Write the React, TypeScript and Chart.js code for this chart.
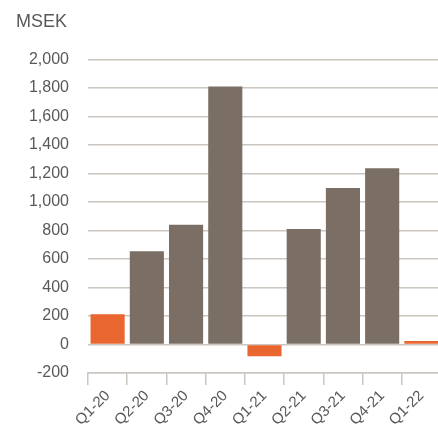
import React, { useEffect, useRef } from "react";
import { Chart, registerables } from "chart.js";

Chart.register(...registerables);

const categories = ["Q1-20", "Q2-20", "Q3-20", "Q4-20", "Q1-21", "Q2-21", "Q3-21", "Q4-21", "Q1-22"];
const values = [212, 655, 840, 1812, -82, 810, 1098, 1238, 25];
const yMin = -200;
const yMax = 2000;
const yStep = 200;
const unitLabel = "MSEK";

const ORANGE = "#ea6630";
const GRAY = "#7b6f65";
const TEXT = "#595959";
const GRID = "#cbc6bf";

export default function App() {
  const ref = useRef<HTMLCanvasElement | null>(null);
  useEffect(() => {
    if (!ref.current) return;
    const colors = categories.map((c) => (c.startsWith("Q1") ? ORANGE : GRAY));
    const chart = new Chart(ref.current, {
      type: "bar",
      data: {
        labels: categories,
        datasets: [
          {
            data: values,
            backgroundColor: colors,
            barPercentage: 0.87,
            categoryPercentage: 1,
          },
        ],
      },
      options: {
        animation: false,
        responsive: false,
        layout: { padding: { left: 16, right: 0, top: 0, bottom: 0 } },
        plugins: {
          legend: { display: false },
          tooltip: { enabled: false },
          title: {
            display: true,
            text: unitLabel,
            align: "start",
            color: TEXT,
            font: { family: "'Liberation Sans', Arial, sans-serif", size: 18, weight: "normal" },
            padding: { top: 11, bottom: 27 },
          },
        },
        scales: {
          x: {
            grid: {
              offset: true,
              drawOnChartArea: false,
              drawTicks: true,
              tickLength: 12,
              color: GRID,
              lineWidth: 1.5,
            },
            border: { display: true, color: GRID, width: 1.5 },
            ticks: {
              color: TEXT,
              font: { family: "'Liberation Sans', Arial, sans-serif", size: 15 },
              maxRotation: 45,
              minRotation: 45,
              padding: 2,
            },
            afterFit: (s: any) => {
              s.height = 52;
            },
          },
          y: {
            min: yMin,
            max: yMax,
            grid: { drawTicks: false, color: GRID, lineWidth: 1.5 },
            border: { display: false },
            ticks: {
              stepSize: yStep,
              color: TEXT,
              padding: 19,
              font: { family: "'Liberation Sans', Arial, sans-serif", size: 16 },
              callback: (v: any) => Number(v).toLocaleString("en-US"),
            },
            afterFit: (s: any) => {
              s.width = 72;
            },
          },
        },
      },
    });
    return () => chart.destroy();
  }, []);
  return (
    <div
      style={{
        position: "fixed",
        left: 0,
        top: 0,
        width: 438,
        height: 425,
        overflow: "hidden",
        background: "#fff",
      }}
    >
      <canvas ref={ref} width={441} height={425} style={{ width: 441, height: 425, display: "block" }} />
    </div>
  );
}
